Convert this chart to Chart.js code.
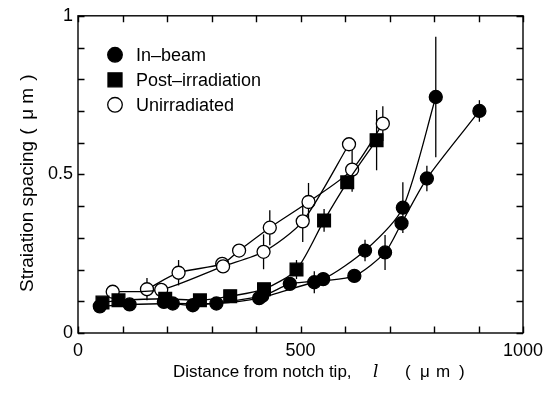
<!DOCTYPE html>
<html>
<head>
<meta charset="utf-8">
<script src="https://cdn.jsdelivr.net/npm/chart.js@4.4.1/dist/chart.umd.min.js"></script>
<style>
  html, body { margin: 0; background: #fff; }
  #wrap { width: 558px; height: 396px; }
</style>
</head>
<body>
<div id="wrap"><canvas id="chart"></canvas></div>
<script>
// in-beam, two runs
const beamAX = [49, 116, 213, 311, 407, 531, 621, 690, 727, 784, 902];
const beamAY = [0.084, 0.09, 0.093, 0.093, 0.11, 0.16, 0.18, 0.254, 0.346, 0.487, 0.70];
const beamAErr = [0, 0, 0, 0, 0.015, 0.035, 0.012, 0.055, 0.02, 0.04, 0.034];

const beamBX = [193, 258, 414, 476, 551, 645, 730, 804];
const beamBY = [0.098, 0.0875, 0.117, 0.155, 0.17, 0.26, 0.395, 0.744];
const beamBErr = [0, 0, 0.015, 0.015, 0.02, 0.034, 0.08, 0.19];

// post-irradiation
const postX = [55, 91, 196, 274, 342, 418, 491, 553, 605, 671];
const postY = [0.096, 0.103, 0.108, 0.103, 0.116, 0.138, 0.2, 0.355, 0.475, 0.608];
const postErr = [0, 0, 0, 0, 0, 0.015, 0.03, 0.036, 0.02, 0.095];

// unirradiated, two runs
const unirrAX = [78, 187, 326, 417, 505, 609];
const unirrAY = [0.13, 0.136, 0.21, 0.256, 0.352, 0.595];
const unirrAErr = [0, 0, 0.02, 0.055, 0.065, 0];

const unirrBX = [155, 226, 324, 362, 431, 518, 616, 685];
const unirrBY = [0.138, 0.19, 0.218, 0.26, 0.332, 0.413, 0.515, 0.66];
const unirrBErr = [0.035, 0.04, 0.02, 0, 0.055, 0.06, 0.07, 0.055];

const legendLabels = ['In\u2013beam', 'Post\u2013irradiation', 'Unirradiated'];
const legendStyles = [['circle', '#000'], ['rect', '#000'], ['circle', '#fff']];

const xTicksLabelled = [0, 500, 1000];
const yTicksLabelled = [0, 0.5, 1];

const FONT = '"Liberation Sans", Arial, Helvetica, sans-serif';

const toPts = (xs, ys) => xs.map((x, i) => ({ x: x, y: ys[i] }));

function series(label, xs, ys, err, style, fill) {
    return {
        label: label,
        data: toPts(xs, ys),
        err: err,
        borderColor: '#000',
        borderWidth: 1.3,
        tension: 0.25,
        pointStyle: style,
        pointRadius: style === 'rect' ? 9 : 6.5,
        pointBackgroundColor: fill,
        pointBorderColor: '#000',
        pointBorderWidth: 1.3,
        fill: false
    };
}

// error bars, behind the markers
const errorBars = {
    id: 'errorBars',
    beforeDatasetsDraw(chart) {
        const { ctx, scales: { x, y } } = chart;
        ctx.save();
        ctx.strokeStyle = '#000';
        ctx.lineWidth = 1.3;
        chart.data.datasets.forEach(ds => {
            ds.data.forEach((p, i) => {
                const e = ds.err[i];
                if (!e) return;
                const px = x.getPixelForValue(p.x);
                ctx.beginPath();
                ctx.moveTo(px, y.getPixelForValue(p.y - e));
                ctx.lineTo(px, y.getPixelForValue(p.y + e));
                ctx.stroke();
            });
        });
        ctx.restore();
    }
};

// writes "( μ m )" piece by piece so the gaps match the original
function unitText(ctx, x0, y0) {
    ctx.textAlign = 'left';
    ctx.fillText('(', x0, y0);
    ctx.fillText('\u03bc', x0 + 15, y0);
    ctx.fillText('m', x0 + 31, y0);
    ctx.fillText(')', x0 + 54, y0);
}

// box with inward ticks on all four sides, axis titles, legend
const frame = {
    id: 'frame',
    afterDraw(chart) {
        const { ctx, chartArea: a, scales: { x, y } } = chart;
        const tl = 6.5;
        ctx.save();
        ctx.strokeStyle = '#000';
        ctx.lineWidth = 1.4;
        ctx.strokeRect(a.left, a.top, a.right - a.left, a.bottom - a.top);
        ctx.beginPath();
        x.ticks.forEach(t => {
            const px = Math.round(x.getPixelForValue(t.value)) + 0.5;
            ctx.moveTo(px, a.bottom); ctx.lineTo(px, a.bottom - tl);
            ctx.moveTo(px, a.top); ctx.lineTo(px, a.top + tl);
        });
        y.ticks.forEach(t => {
            const py = Math.round(y.getPixelForValue(t.value)) + 0.5;
            ctx.moveTo(a.left, py); ctx.lineTo(a.left + tl, py);
            ctx.moveTo(a.right, py); ctx.lineTo(a.right - tl, py);
        });
        ctx.stroke();

        ctx.fillStyle = '#000';
        ctx.font = '17px ' + FONT;
        ctx.textBaseline = 'alphabetic';

        // x title
        ctx.textAlign = 'left';
        ctx.fillText('Distance from notch tip,', 173, 377);
        ctx.font = 'italic 17px "DejaVu Serif", "Liberation Serif", serif';
        ctx.fillText('l', 373, 377);
        ctx.font = '17px ' + FONT;
        unitText(ctx, 405, 377);

        // y title
        ctx.save();
        ctx.translate(33, 292);
        ctx.rotate(-Math.PI / 2);
        ctx.font = '19px ' + FONT;
        ctx.textAlign = 'left';
        ctx.fillText('Straiation spacing', 0, 0);
        const w = ctx.measureText('Straiation spacing ').width;
        unitText(ctx, w + 1, 0);
        ctx.restore();

        // legend
        ctx.font = '18px ' + FONT;
        ctx.textBaseline = 'middle';
        legendLabels.forEach((lab, i) => {
            const cx = a.left + 37, cy = a.top + 39 + i * 25;
            const [style, fill] = legendStyles[i];
            ctx.beginPath();
            if (style === 'rect') ctx.rect(cx - 7, cy - 7, 14, 14);
            else ctx.arc(cx, cy, 7.3, 0, Math.PI * 2);
            ctx.fillStyle = fill;
            ctx.fill();
            ctx.lineWidth = 1.3;
            ctx.stroke();
            ctx.fillStyle = '#000';
            ctx.fillText(lab, a.left + 58, cy + 1);
        });
        ctx.restore();
    }
};

new Chart(document.getElementById('chart'), {
    type: 'line',
    data: {
        datasets: [
            series('In-beam', beamAX, beamAY, beamAErr, 'circle', '#000'),
            series('In-beam', beamBX, beamBY, beamBErr, 'circle', '#000'),
            series('Post-irradiation', postX, postY, postErr, 'rect', '#000'),
            series('Unirradiated', unirrAX, unirrAY, unirrAErr, 'circle', '#fff'),
            series('Unirradiated', unirrBX, unirrBY, unirrBErr, 'circle', '#fff')
        ]
    },
    options: {
        responsive: true,
        maintainAspectRatio: false,
        animation: false,
        layout: { padding: { top: 13, right: 35, left: 0, bottom: 0 } },
        plugins: { legend: { display: false }, tooltip: { enabled: false } },
        scales: {
            x: {
                type: 'linear',
                min: 0, max: 1000,
                grid: { display: false, drawTicks: false },
                border: { display: false },
                ticks: {
                    stepSize: 100,
                    padding: 7,
                    color: '#000',
                    font: { size: 18, family: FONT },
                    maxRotation: 0,
                    autoSkip: false,
                    callback: v => xTicksLabelled.includes(v) ? String(v) : ''
                },
                afterFit: s => { s.height = 63; }
            },
            y: {
                min: 0, max: 1,
                grid: { display: false, drawTicks: false },
                border: { display: false },
                ticks: {
                    stepSize: 0.1,
                    padding: 5,
                    color: '#000',
                    font: { size: 18, family: FONT },
                    autoSkip: false,
                    callback: v => {
                        const hit = yTicksLabelled.find(t => Math.abs(t - v) < 1e-6);
                        return hit === undefined ? '' : String(hit);
                    }
                },
                afterFit: s => { s.width = 78; }
            }
        }
    },
    plugins: [errorBars, frame]
});
</script>
</body>
</html>
